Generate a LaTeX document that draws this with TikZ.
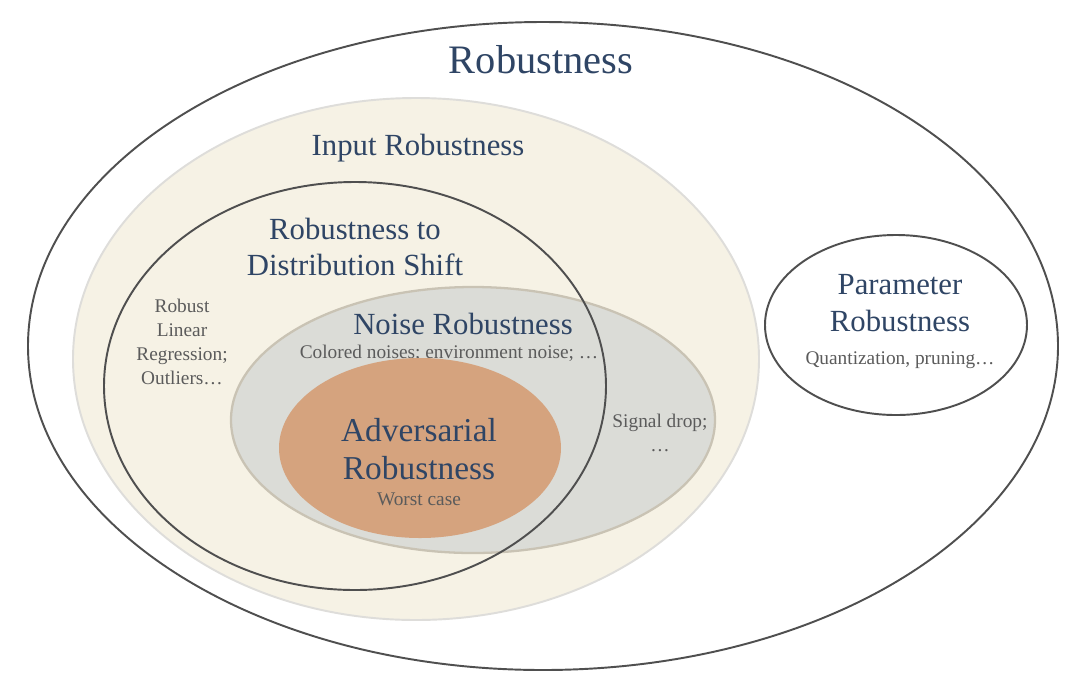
\documentclass[tikz,border=0pt]{standalone}
\usepackage{fontspec}
\setmainfont{Liberation Serif}
\usepackage{tikz}
\usetikzlibrary{positioning}

\definecolor{ringline}{HTML}{4F4F4F}
\definecolor{inputfill}{HTML}{F6F2E5}
\definecolor{inputline}{HTML}{DEDDDA}
\definecolor{noisefill}{HTML}{DBDCD7}
\definecolor{noiseline}{HTML}{C9C3B4}
\definecolor{advfill}{HTML}{D5A37E}
\definecolor{titlecol}{HTML}{2F4565}
\definecolor{notecol}{HTML}{5B5B5B}

\tikzset{
	ring/.style={draw=ringline, line width=1.1pt},
	title/.style={text=titlecol, align=center, font=\fontsize{17.5}{21}\selectfont},
	note/.style={text=notecol, align=center, font=\fontsize{11}{13.6}\selectfont}
}

\begin{document}
\begin{tikzpicture}[x=0.02cm, y=-0.02cm]
		%%%%% START %%%%%
		\useasboundingbox (0, 0) rectangle (1066, 681);
		
		% outer set
		\draw[ring, fill=white] (543, 346) ellipse (515 and 324);
		\node[title, font=\fontsize{23}{25}\selectfont] (robust) at (541, 60) {Robustness};
		
		% input robustness
		\draw[fill=inputfill, draw=inputline, line width=1.1pt] (416, 359) ellipse (343 and 261);
		\node[title] (input) at (418, 148) {Input Robustness};
		
		% noise robustness
		\draw[fill=noisefill, draw=noiseline, line width=1.3pt] (473, 420) ellipse (242 and 133);
		\node[title, inner sep=1pt] (noise) at (463, 324) {Noise Robustness};
		\node[note, inner sep=1pt] (noisenote) at (449, 353) {Colored noises; environment noise; \dots};
		\node[note] (signal) at (660, 433) {Signal drop;\\\dots};
		
		% adversarial robustness
		\draw[fill=advfill, draw=none] (420, 448) ellipse (141 and 90);
		\node[title, font=\fontsize{19}{22}\selectfont] (adv) at (419, 449) {Adversarial\\Robustness};
		\node[note] (worst) at (419, 499) {Worst case};
		
		% distribution shift
		\draw[ring] (355, 386) ellipse (251 and 204);
		\node[title] (shift) at (355, 247) {Robustness to\\Distribution Shift};
		\node[note] (linreg) at (182, 342) {Robust\\Linear\\Regression;\\Outliers\dots};
		
		% parameter robustness
		\draw[ring, fill=white] (896, 325) ellipse (131 and 90);
		\node[title] (param) at (900, 303) {Parameter\\Robustness};
		\node[note] (quant) at (900, 360) {Quantization, pruning\dots};
		%%%%% END %%%%%
	\end{tikzpicture}
\end{document}
